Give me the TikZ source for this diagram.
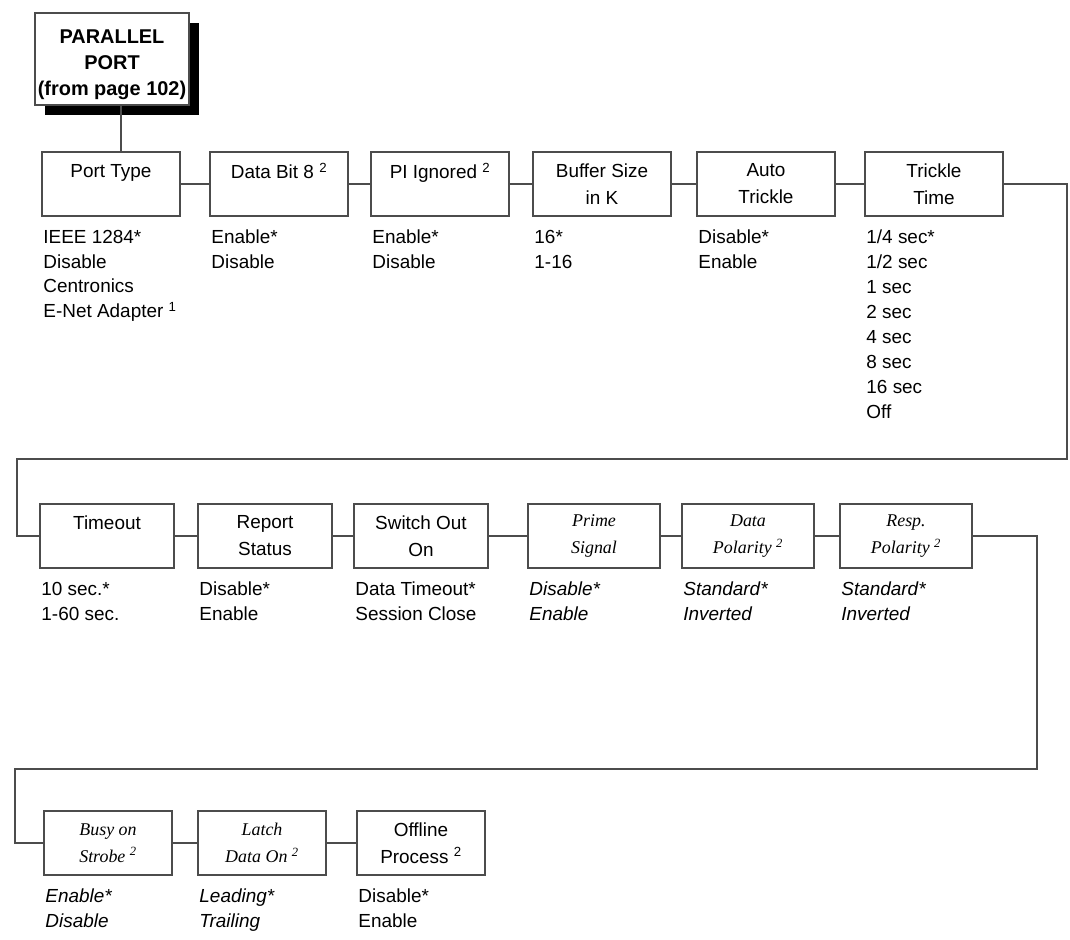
\documentclass[tikz,border=0pt]{standalone}
\usepackage{fontspec}
\setmainfont{Liberation Sans}
\newfontfamily\tmsfont{Liberation Serif}
\usetikzlibrary{shadows}

\begin{document}
\begin{tikzpicture}[x=1bp, y=-1bp,
    menu/.style={draw=black!70, line width=1.5bp, fill=white, inner sep=0pt,
        minimum width=138bp, minimum height=64bp, align=center,
        font=\fontsize{19}{27}\selectfont},
    itmenu/.style={menu, font=\fontsize{18}{27}\tmsfont\itshape},
    opts/.style={anchor=north west, align=left, inner sep=0pt,
        font=\fontsize{19}{25}\selectfont},
    itopts/.style={opts, font=\fontsize{19}{25}\selectfont\itshape},
    wire/.style={draw=black!70, line width=1.5bp}]
\useasboundingbox (0,0) rectangle (1070,940);

\node[menu, minimum width=154bp, minimum height=92bp,
    font=\fontsize{20}{26}\selectfont\bfseries,
    drop shadow={shadow xshift=10bp, shadow yshift=-10bp, fill=black, opacity=1}]
    (pp) at (112,59) {\rule{0pt}{26bp}PARALLEL\\PORT\\(from page 102)};

\node[menu] (ptype)  at (111,184) {Port Type\\\mbox{}};
\node[menu] (dbit)   at (279,184) {Data Bit 8 \textsuperscript{2}\\\mbox{}};
\node[menu] (pign)   at (440,184) {PI Ignored \textsuperscript{2}\\\mbox{}};
\node[menu] (bsize)  at (602,184) {Buffer Size\\in K};
\node[menu] (atrick) at (766,184) {Auto\\Trickle};
\node[menu] (ttime)  at (934,184) {Trickle\\Time};

\node[menu, minimum width=134bp]   (tout)  at (107,536) {Timeout\\\mbox{}};
\node[menu, minimum width=134bp]   (rstat) at (265,536) {Report\\Status};
\node[menu, minimum width=134bp]   (swout) at (421,536) {Switch Out\\On};
\node[itmenu, minimum width=132bp] (prime) at (594,536) {Prime\\Signal};
\node[itmenu, minimum width=132bp] (dpol)  at (748,536) {Data\\Polarity \textsuperscript{2}};
\node[itmenu, minimum width=132bp] (rpol)  at (906,536) {Resp.\\Polarity \textsuperscript{2}};

\node[itmenu, minimum width=128bp] (busy)  at (108,843) {Busy on\\Strobe \textsuperscript{2}};
\node[itmenu, minimum width=128bp] (latch) at (262,843) {Latch\\Data On \textsuperscript{2}};
\node[menu, minimum width=128bp]   (offl)  at (421,843) {Offline\\Process \textsuperscript{2}};

\foreach \n/\t in {ptype/{IEEE 1284*\\Disable\\Centronics\\E-Net Adapter \textsuperscript{1}},
    dbit/{Enable*\\Disable}, pign/{Enable*\\Disable}, bsize/{16*\\1-16},
    atrick/{Disable*\\Enable},
    ttime/{1/4 sec*\\1/2 sec\\1 sec\\2 sec\\4 sec\\8 sec\\16 sec\\Off},
    tout/{10 sec.*\\1-60 sec.}, rstat/{Disable*\\Enable},
    swout/{Data Timeout*\\Session Close}, offl/{Disable*\\Enable}}{
    \node[opts] (\n-opt) at ([xshift=2bp, yshift=-13bp]\n.south west) {\t};
}
\foreach \n/\t in {prime/{Disable*\\Enable}, dpol/{Standard*\\Inverted},
    rpol/{Standard*\\Inverted}, busy/{Enable*\\Disable}, latch/{Leading*\\Trailing}}{
    \node[itopts] (\n-opt) at ([xshift=2bp, yshift=-13bp]\n.south west) {\t};
}

\coordinate (r1) at (1067,459);
\coordinate (l1) at (17,459);
\coordinate (r2) at (1037,769);
\coordinate (l2) at (15,769);

\draw[wire] ([xshift=9bp]pp.south) -- ([xshift=9bp]pp.south |- ptype.north);
\draw[wire] (ptype) -- (dbit) -- (pign) -- (bsize) -- (atrick) -- (ttime);
\draw[wire] (ttime.east) -- (ttime.east -| r1) -- (r1) -- (l1) -- (l1 |- tout.west) -- (tout.west);
\draw[wire] (tout) -- (rstat) -- (swout) -- (prime) -- (dpol) -- (rpol);
\draw[wire] (rpol.east) -- (rpol.east -| r2) -- (r2) -- (l2) -- (l2 |- busy.west) -- (busy.west);
\draw[wire] (busy) -- (latch) -- (offl);
\end{tikzpicture}
\end{document}
